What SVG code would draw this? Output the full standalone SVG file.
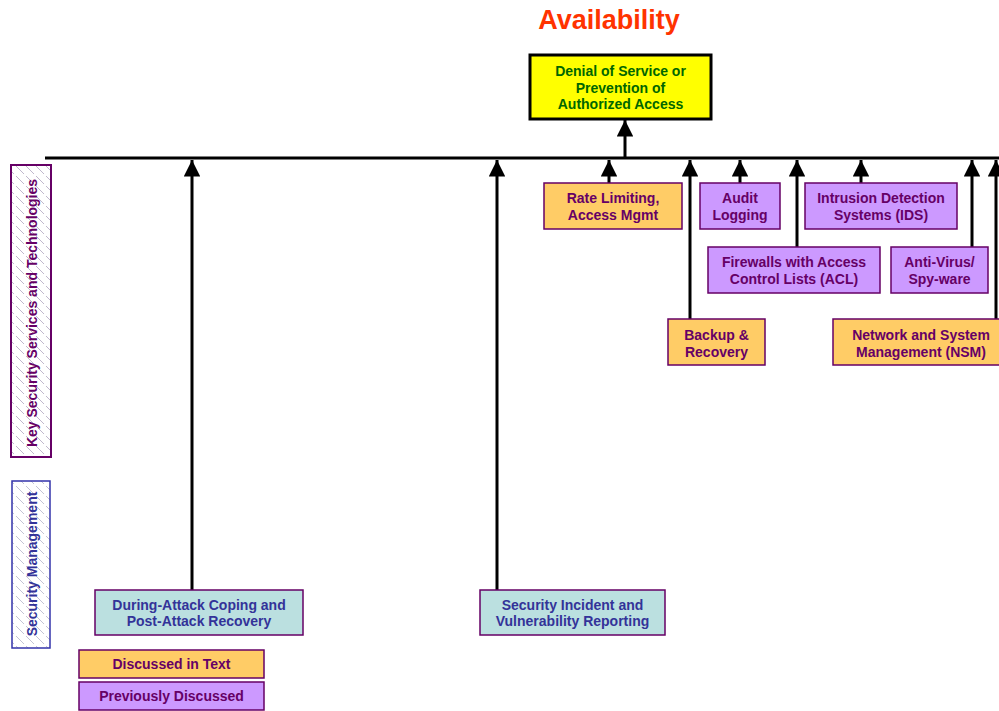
<svg xmlns="http://www.w3.org/2000/svg" width="999" height="711" viewBox="0 0 999 711">
<style>
.t{font-family:"Liberation Sans",Arial,sans-serif;font-weight:bold;font-size:14px;text-anchor:middle}
.p{fill:#660066}
.b{fill:#333399}
.or{fill:#FFCC66;stroke:#660066;stroke-width:1.5}
.pu{fill:#CC99FF;stroke:#660066;stroke-width:1.5}
.te{fill:#BBE0E0;stroke:#660066;stroke-width:1.5}
.c{stroke:#000;stroke-width:3;fill:none}
</style>
<defs>
<marker id="ah" viewBox="0 0 10 10" refX="10" refY="5" markerWidth="5.5" markerHeight="5.5" orient="auto" markerUnits="strokeWidth">
<path d="M0,0 L10,5 L0,10 z" fill="#000"/>
</marker>
<pattern id="hp" width="10" height="10" patternUnits="userSpaceOnUse">
<rect width="10" height="10" fill="#fff"/>
<path d="M0,0 L4,4 M6,6 L10,10" stroke="#c0b8cc" stroke-width="1"/>
</pattern>
<pattern id="hb" width="10" height="10" patternUnits="userSpaceOnUse">
<rect width="10" height="10" fill="#fff"/>
<path d="M0,0 L4,4 M6,6 L10,10" stroke="#c4c4d4" stroke-width="1"/>
</pattern>
</defs>
<rect width="999" height="711" fill="#fff"/>
<text x="609" y="29" style="font-family:'Liberation Sans',Arial,sans-serif;font-weight:bold;font-size:27px;text-anchor:middle;fill:#FF3300">Availability</text>

<g id="side-key">
<rect x="11" y="165" width="40" height="292" fill="url(#hp)" stroke="#660066" stroke-width="2"/>
<text class="t p" transform="translate(37,313) rotate(-90)" style="font-size:14px">Key Security Services and Technologies</text>
</g>
<g id="side-mgmt">
<rect x="12" y="481" width="38" height="167" fill="url(#hb)" stroke="#3333AA" stroke-width="1.5"/>
<text class="t b" transform="translate(37,564) rotate(-90)" style="font-size:14px">Security Management</text>
</g>

<g id="connectors">
<line class="c" x1="45" y1="158" x2="999" y2="158"/>
<line class="c" x1="625" y1="158" x2="625" y2="120" marker-end="url(#ah)"/>
<line class="c" x1="192" y1="590" x2="192" y2="160" marker-end="url(#ah)"/>
<line class="c" x1="497" y1="590" x2="497" y2="160" marker-end="url(#ah)"/>
<line class="c" x1="609" y1="183" x2="609" y2="160" marker-end="url(#ah)"/>
<line class="c" x1="690" y1="319" x2="690" y2="160" marker-end="url(#ah)"/>
<line class="c" x1="740" y1="183" x2="740" y2="160" marker-end="url(#ah)"/>
<line class="c" x1="797" y1="247" x2="797" y2="160" marker-end="url(#ah)"/>
<line class="c" x1="861" y1="183" x2="861" y2="160" marker-end="url(#ah)"/>
<line class="c" x1="972" y1="247" x2="972" y2="160" marker-end="url(#ah)"/>
<line class="c" x1="996" y1="319" x2="996" y2="160" marker-end="url(#ah)"/>
</g>

<g id="dos">
<rect x="530" y="55" width="181" height="64" fill="#FFFF00" stroke="#000" stroke-width="3"/>
<text class="t" style="fill:#006600" x="620.5" y="76">Denial of Service or</text>
<text class="t" style="fill:#006600" x="620.5" y="93">Prevention of</text>
<text class="t" style="fill:#006600" x="620.5" y="109">Authorized Access</text>
</g>

<g id="rate">
<rect class="or" x="544" y="183" width="138" height="46"/>
<text class="t p" x="613" y="203">Rate Limiting,</text>
<text class="t p" x="613" y="220">Access Mgmt</text>
</g>
<g id="audit">
<rect class="pu" x="700" y="183" width="80" height="46"/>
<text class="t p" x="740" y="203">Audit</text>
<text class="t p" x="740" y="220">Logging</text>
</g>
<g id="ids">
<rect class="pu" x="805" y="183" width="152" height="46"/>
<text class="t p" x="881" y="203">Intrusion Detection</text>
<text class="t p" x="881" y="220">Systems (IDS)</text>
</g>
<g id="firewalls">
<rect class="pu" x="708" y="247" width="172" height="46"/>
<text class="t p" x="794" y="267">Firewalls with Access</text>
<text class="t p" x="794" y="284">Control Lists (ACL)</text>
</g>
<g id="antivirus">
<rect class="pu" x="891" y="247" width="97" height="46"/>
<text class="t p" x="939.5" y="267">Anti-Virus/</text>
<text class="t p" x="939.5" y="284">Spy-ware</text>
</g>
<g id="backup">
<rect class="or" x="668" y="319" width="97" height="46"/>
<text class="t p" x="716.5" y="340">Backup &amp;</text>
<text class="t p" x="716.5" y="357">Recovery</text>
</g>
<g id="nsm">
<rect class="or" x="833" y="319" width="170" height="46"/>
<text class="t p" x="921" y="340">Network and System</text>
<text class="t p" x="921" y="357">Management (NSM)</text>
</g>
<g id="during">
<rect class="te" x="95" y="590" width="208" height="45"/>
<text class="t b" x="199" y="610">During-Attack Coping and</text>
<text class="t b" x="199" y="626">Post-Attack Recovery</text>
</g>
<g id="incident">
<rect class="te" x="480" y="590" width="185" height="45"/>
<text class="t b" x="572.5" y="610">Security Incident and</text>
<text class="t b" x="572.5" y="626">Vulnerability Reporting</text>
</g>
<g id="legend-text">
<rect class="or" x="79" y="650" width="185" height="28"/>
<text class="t p" x="171.5" y="669">Discussed in Text</text>
</g>
<g id="legend-prev">
<rect class="pu" x="79" y="682" width="185" height="28"/>
<text class="t p" x="171.5" y="701">Previously Discussed</text>
</g>
</svg>
